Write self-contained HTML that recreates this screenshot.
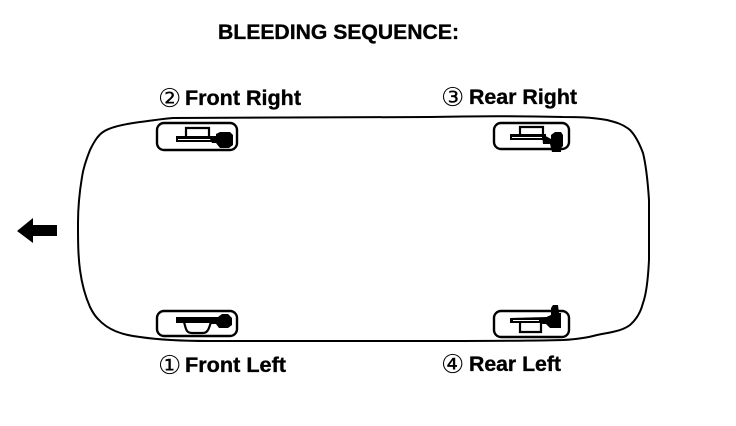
<!DOCTYPE html>
<html>
<head>
<meta charset="utf-8">
<style>
html,body{margin:0;padding:0;background:#fff;width:736px;height:426px;overflow:hidden}
svg{display:block}
text{font-family:"Liberation Sans",sans-serif;font-weight:bold;fill:#000;stroke:#000;stroke-width:.35}
.n{font-family:"DejaVu Sans",sans-serif;font-weight:normal;stroke:none;font-size:26px}
</style>
</head>
<body>
<svg width="736" height="426" viewBox="0 0 736 426" xmlns="http://www.w3.org/2000/svg">
<rect width="736" height="426" fill="#fff"/>
<text x="218" y="39" font-size="21" textLength="241" lengthAdjust="spacingAndGlyphs">BLEEDING SEQUENCE:</text>

<text class="n" x="158" y="107">②</text>
<text x="185" y="105" font-size="21" textLength="116" lengthAdjust="spacingAndGlyphs">Front Right</text>
<text class="n" x="441" y="106">③</text>
<text x="469" y="104" font-size="21" textLength="108" lengthAdjust="spacingAndGlyphs">Rear Right</text>
<text class="n" x="158" y="374">①</text>
<text x="185" y="372" font-size="21" textLength="101" lengthAdjust="spacingAndGlyphs">Front Left</text>
<text class="n" x="441" y="373">④</text>
<text x="469" y="371" font-size="21" textLength="92" lengthAdjust="spacingAndGlyphs">Rear Left</text>

<!-- car outline -->
<path d="M173 118 C160 119 150 121 140 122 C125 124 110 127 103 132 C97 136 93 144 90 150 C86 160 83 170 82 177 C79 195 78 210 78 223 C78 240 78 255 80 270 C82 285 86 298 90 307 C93 313 95 316 98 319 C108 330 122 335 140 337 C160 340 180 341 210 341 L430 341 C480 341 530 341 563 340 C580 339 590 337 597 335 C612 332 622 331 630 325 C637 319 641 311 643 303 C646 295 648 280 649 260 C649 240 649 220 649 200 C648 185 646 165 643 153 C640 145 636 136 630 130 C623 124 615 122 607 120 C590 117 575 117 563 117 C520 116 470 116 430 117 L173 118 Z" fill="none" stroke="#000" stroke-width="2"/>

<!-- wheels -->
<rect x="157" y="123" width="80" height="27" rx="7" fill="#fff" stroke="#000" stroke-width="2.4"/>
<rect x="494" y="123" width="75" height="26" rx="7" fill="#fff" stroke="#000" stroke-width="2.4"/>
<rect x="157" y="311" width="80" height="25" rx="7" fill="#fff" stroke="#000" stroke-width="2.4"/>
<rect x="494" y="311" width="75" height="26" rx="7" fill="#fff" stroke="#000" stroke-width="2.4"/>

<!-- front right -->
<path d="M186 138 V128 H209 V138" fill="none" stroke="#000" stroke-width="2.2"/>
<rect x="176" y="136" width="42" height="6" fill="#000"/>
<rect x="178" y="139" width="36" height="1" fill="#fff"/>
<path d="M208 135 L216 140 V134 L220 132 H230 L233 135 V145 L229 148 H220 L216 143 H212 Z" fill="#000"/>

<!-- rear right -->
<path d="M520 135 V127 H543 V136" fill="none" stroke="#000" stroke-width="2.2"/>
<rect x="510" y="134" width="36" height="6" fill="#000"/>
<rect x="512" y="137" width="30" height="1" fill="#fff"/>
<path d="M542 134 L551 139 V135 L555 132 H561 L563 135 V146 L561 148 V152 H552 L550 144 H543 Z" fill="#000"/>

<!-- front left -->
<path d="M184 322 C186 329 186 333 192 333 H203 C208 333 209 328 211 322" fill="none" stroke="#000" stroke-width="2.2"/>
<rect x="176" y="317" width="42" height="6" fill="#000"/>
<path d="M212 318 L218 317 L222 314 H228 L232 318 V325 L228 328 H219 L216 324 H210 Z" fill="#000"/>

<!-- rear left -->
<path d="M520 323 V332 H541 V323" fill="none" stroke="#000" stroke-width="2.2"/>
<path d="M510 318 L547 317 V323 H510 Z" fill="#000"/>
<rect x="513" y="320" width="26" height="1" fill="#fff"/>
<path d="M544 318 L551 315 V308 L553 305 H558 L559 313 H561 V328 H550 L546 324 H542 Z" fill="#000"/>

<!-- direction arrow -->
<path d="M17 231 L33 218 V225 H57 V236 H33 V243 Z" fill="#000"/>
</svg>
</body>
</html>
